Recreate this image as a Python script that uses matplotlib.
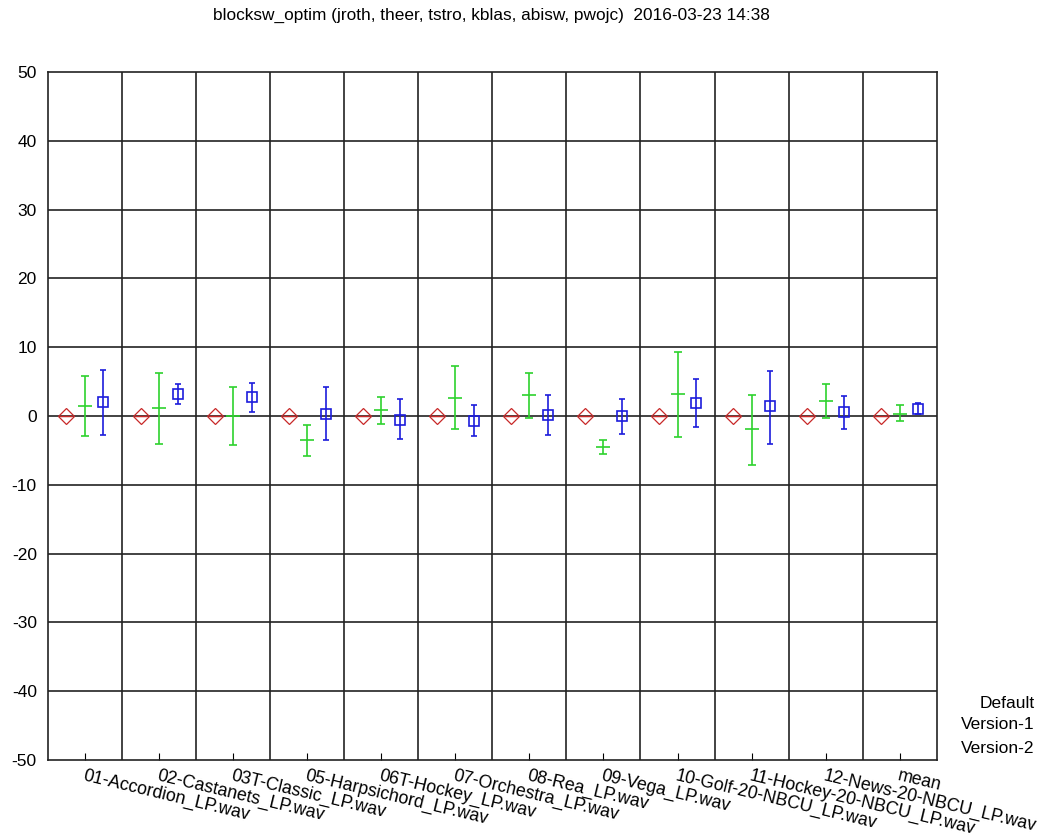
import matplotlib.pyplot as plt
import numpy as np

plt.rcParams['font.family'] = ['Liberation Sans', 'DejaVu Sans']
plt.rcParams['axes.unicode_minus'] = False

# Itens testados (um grupo por ficheiro, mais a media)
itens = ['01-Accordion_LP.wav', '02-Castanets_LP.wav', '03T-Classic_LP.wav',
         '05-Harpsichord_LP.wav', '06T-Hockey_LP.wav', '07-Orchestra_LP.wav',
         '08-Rea_LP.wav', '09-Vega_LP.wav', '10-Golf-20-NBCU_LP.wav',
         '11-Hockey-20-NBCU_LP.wav', '12-News-20-NBCU_LP.wav', 'mean']

# Default (referencia)
default_media = [0.0, 0.0, 0.0, 0.0, 0.0, 0.0, 0.0, 0.0, 0.0, 0.0, 0.0, 0.0]

# Version-1: media, limite inferior e superior
v1_media = [1.45, 1.1, 0.0, -3.5, 0.85, 2.6, 3.1, -4.5, 3.25, -1.95, 2.15, 0.35]
v1_inf = [-2.9, -4.0, -4.2, -5.8, -1.1, -1.9, -0.3, -5.5, -3.05, -7.05, -0.3, -0.75]
v1_sup = [5.8, 6.25, 4.2, -1.3, 2.75, 7.25, 6.3, -3.5, 9.3, 3.1, 4.7, 1.65]

# Version-2: media, limite inferior e superior
v2_media = [2.0, 3.15, 2.7, 0.35, -0.6, -0.65, 0.1, -0.05, 1.9, 1.4, 0.6, 1.05]
v2_inf = [-2.7, 1.8, 0.55, -3.5, -3.35, -2.9, -2.7, -2.55, -1.65, -4.0, -1.95, 0.25]
v2_sup = [6.75, 4.65, 4.85, 4.2, 2.45, 1.6, 3.1, 2.55, 5.35, 6.6, 2.9, 1.9]

x = np.arange(1, len(itens) + 1)

fig = plt.figure(figsize=(10.42, 8.38), dpi=100)
ax = fig.add_axes([0.046, 0.093, 0.853, 0.821])

# grelha: linhas horizontais de 10 em 10 e verticais entre grupos
for yy in range(-40, 50, 10):
    ax.axhline(yy, color='#222222', lw=1.2, zorder=1)
for xx in np.arange(1.5, len(itens), 1.0):
    ax.axvline(xx, color='#222222', lw=1.2, zorder=1)

# Default
ax.errorbar(x - 0.25, default_media, yerr=[np.zeros(len(x)), np.zeros(len(x))],
            fmt='D', ms=8.5, mfc='none', mec='#c82828', mew=0.9,
            ecolor='#c82828', elinewidth=1, capsize=4.6, capthick=0.9, zorder=3)

# Version-1
m1 = np.array(v1_media)
ax.errorbar(x, m1, yerr=[m1 - np.array(v1_inf), np.array(v1_sup) - m1],
            fmt='_', ms=9.5, mew=1.2, color='#2ed22e',
            ecolor='#2ed22e', elinewidth=1.2, capsize=3.2, capthick=1.2, zorder=3)

# Version-2
m2 = np.array(v2_media)
ax.errorbar(x + 0.25, m2, yerr=[m2 - np.array(v2_inf), np.array(v2_sup) - m2],
            fmt='s', ms=7.2, mfc='none', mec='#1c1cdc', mew=1.2,
            ecolor='#1c1cdc', elinewidth=1.2, capsize=2.5, capthick=1.2, zorder=3)

ax.set_xlim(0.5, len(itens) + 0.5)
ax.set_ylim(-50, 50)
ax.set_yticks(range(-50, 51, 10))
ax.set_xticks(x)
ax.set_xticklabels(itens, rotation=-13.5, ha='left', rotation_mode='anchor', fontsize=12.8)
ax.tick_params(axis='y', labelsize=12.5, length=0, pad=8)
ax.tick_params(axis='x', direction='in', length=5, color='black', pad=5)
for s in ax.spines.values():
    s.set_color('#222222')
    s.set_linewidth(1.2)

fig.text(0.472, 0.981, 'blocksw_optim (jroth, theer, tstro, kblas, abisw, pwojc)  2016-03-23 14:38',
         ha='center', va='center', fontsize=12.4)

# legenda so com texto, a direita
fig.text(0.993, 0.161, 'Default', ha='right', va='center', fontsize=12.5)
fig.text(0.993, 0.135, 'Version-1', ha='right', va='center', fontsize=12.5)
fig.text(0.993, 0.107, 'Version-2', ha='right', va='center', fontsize=12.5)

plt.savefig('out.png', dpi=100)
